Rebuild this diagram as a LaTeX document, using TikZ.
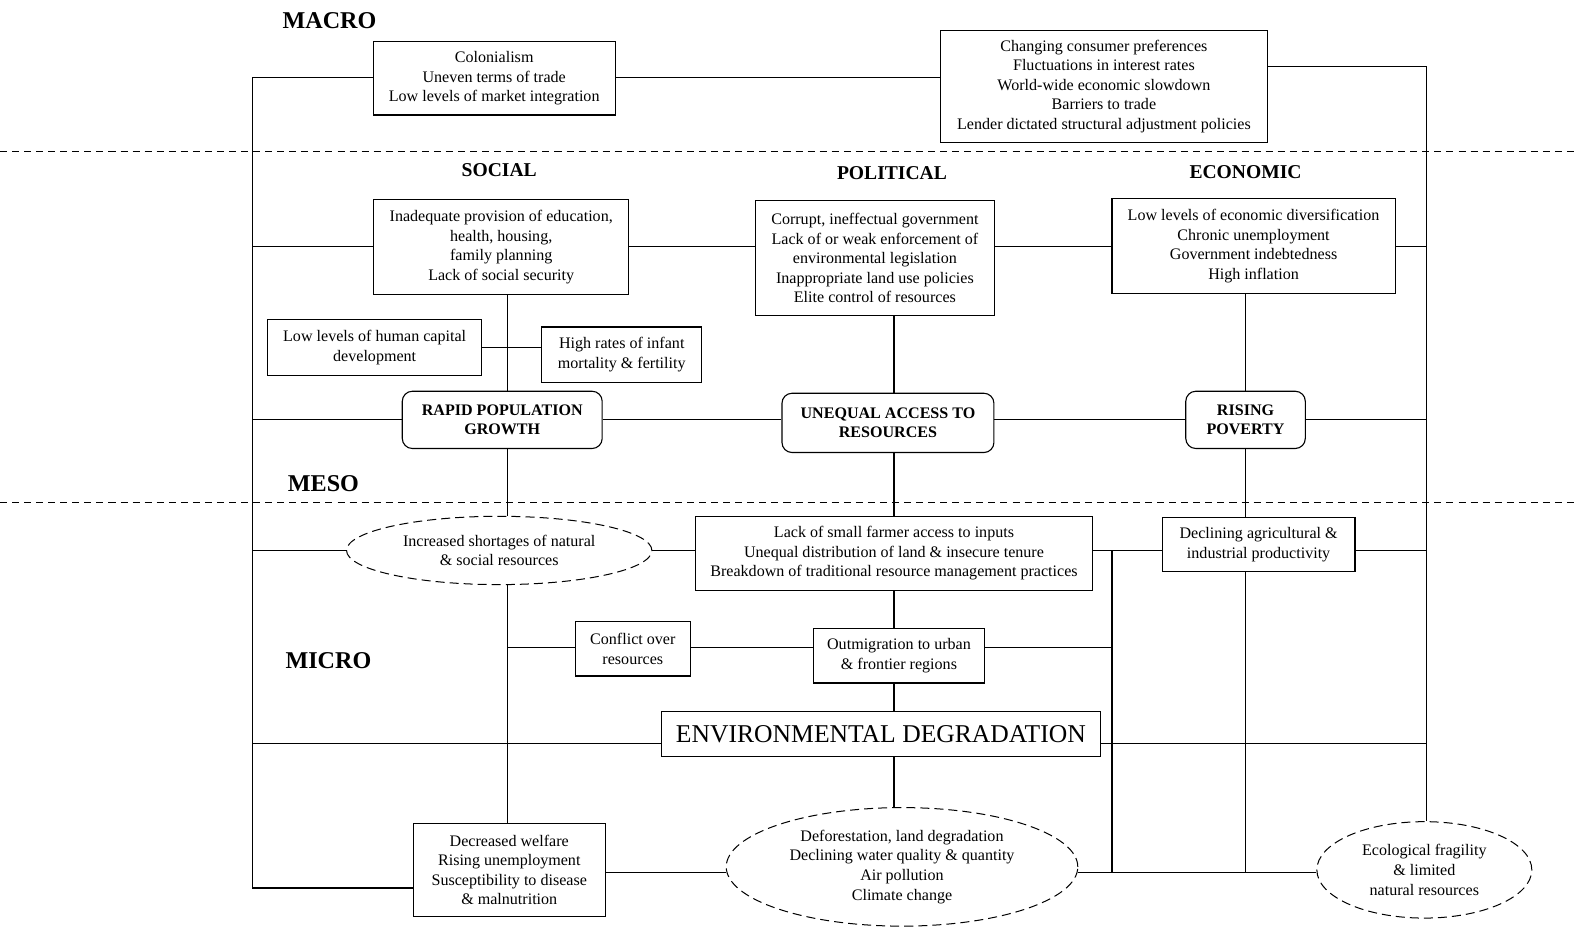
\documentclass[tikz,border=0pt]{standalone}
\usepackage{fontspec}
\setmainfont{Liberation Serif}
\usetikzlibrary{shapes.geometric}
\begin{document}
\begin{tikzpicture}[x=1pt,y=-1pt,
  every node/.style={font=\fontsize{16}{19.5}\selectfont, align=center, inner sep=0pt},
  box/.style 2 args={draw, line width=1.1pt, rectangle, minimum width=#1pt, minimum height=#2pt},
  rbox/.style 2 args={draw, line width=1.1pt, rectangle, rounded corners=10pt, minimum width=#1pt, minimum height=#2pt, font=\bfseries\fontsize{16}{19.5}\selectfont},
  ell/.style 2 args={draw, line width=1pt, ellipse, dash pattern=on 9pt off 5pt, minimum width=#1pt, minimum height=#2pt},
  hdr/.style={font=\bfseries\fontsize{24}{27}\selectfont},
  shdr/.style={font=\bfseries\fontsize{19.5}{22}\selectfont},
  conn/.style={line width=1.1pt},
  sep/.style={line width=1.1pt, dash pattern=on 7pt off 5pt}
]
\useasboundingbox (0,0) rectangle (1568,924);

% separators
\draw[sep] (0,151) -- (1568,151);
\draw[sep] (0,500) -- (1568,500);

% headers
\node[hdr] (macro) at (328,21) {MACRO};
\node[hdr] (meso) at (322,481) {MESO};
\node[hdr] (micro) at (327,658) {MICRO};
\node[shdr] (social) at (497,169) {SOCIAL};
\node[shdr] (political) at (888,172) {POLITICAL};
\node[shdr] (economic) at (1240,171) {ECONOMIC};

% nodes
\node[box={241}{73}] (colon) at (492,78) {Colonialism\\Uneven terms of trade\\Low levels of market integration};
\node[box={325}{111}] (cons) at (1099,86) {Changing consumer preferences\\Fluctuations in interest rates\\World-wide economic slowdown\\Barriers to trade\\Lender dictated structural adjustment policies};
\node[box={254}{94}] (soc) at (499,246) {Inadequate provision of education,\\health, housing,\\family planning\\Lack of social security};
\node[box={238}{114}] (pol) at (871,257) {Corrupt, ineffectual government\\Lack of or weak enforcement of\\environmental legislation\\Inappropriate land use policies\\Elite control of resources};
\node[box={282}{95}] (econ) at (1248,245) {Low levels of economic diversification\\Chronic unemployment\\Government indebtedness\\High inflation};
\node[box={213}{55}] (hc) at (373,346) {Low levels of human capital\\development};
\node[box={159}{55}] (inf) at (619,353) {High rates of infant\\mortality \& fertility};
\node[rbox={199}{57}] (rapid) at (500,418) {RAPID POPULATION\\GROWTH};
\node[rbox={211}{59}] (uneq) at (884,421) {UNEQUAL ACCESS TO\\RESOURCES};
\node[rbox={119}{57}] (pov) at (1240,418) {RISING\\POVERTY};
\node[ell={304}{68}] (short) at (497,548) {Increased shortages of natural\\\& social resources};
\node[box={396}{73}] (lack) at (890,551) {Lack of small farmer access to inputs\\Unequal distribution of land \& insecure tenure\\Breakdown of traditional resource management practices};
\node[box={192}{54}] (decl) at (1253,542) {Declining agricultural \&\\industrial productivity};
\node[box={114}{54}] (confl) at (630,646) {Conflict over\\resources};
\node[box={170}{54}] (outm) at (895,653) {Outmigration to urban\\\& frontier regions};
\node[box={437}{45}, font=\fontsize{25.5}{29}\selectfont] (env) at (877,731) {ENVIRONMENTAL DEGRADATION};
\node[box={191}{92}] (welf) at (507,866) {Decreased welfare\\Rising unemployment\\Susceptibility to disease\\\& malnutrition};
\node[ell={350}{118}] (defo) at (898,863) {Deforestation, land degradation\\Declining water quality \& quantity\\Air pollution\\Climate change};
\node[ell={214}{96}] (ecol) at (1418,866) {Ecological fragility\\\& limited\\natural resources};

% junction coordinates
\coordinate (Ltop) at (251,77);
\coordinate (Lbot) at (251,884);
\coordinate (Rtop) at (1420,66);
\coordinate (cS) at (505,0);
\coordinate (cP) at (890,0);
\coordinate (cE) at (1240,0);
\coordinate (cJ) at (1107,0);
\coordinate (rS) at (0,245);
\coordinate (rR) at (0,418);
\coordinate (rM) at (0,548);
\coordinate (rC) at (0,645);
\coordinate (rEnv) at (0,740);
\coordinate (rB) at (0,869);

% outer frame lines
\draw[conn] (colon.west |- Ltop) -- (Ltop) -- (Lbot) -- (Lbot -| welf.west);
\draw[conn] (colon.east |- Ltop) -- (cons.west |- Ltop);
\draw[conn] (cons.east |- Rtop) -- (Rtop) -- (ecol.north -| Rtop);

% social/political/economic row
\draw[conn] (Ltop |- rS) -- (soc.west |- rS);
\draw[conn] (soc.east |- rS) -- (pol.west |- rS);
\draw[conn] (pol.east |- rS) -- (econ.west |- rS);
\draw[conn] (econ.east |- rS) -- (Rtop |- rS);
\draw[conn] (hc.east) -- (hc.east -| inf.west);

% social column
\draw[conn] (soc.south -| cS) -- (rapid.north -| cS);
\draw[conn] (rapid.south -| cS) -- (short.north -| cS);
\draw[conn] (short.south -| cS) -- (welf.north -| cS);

% meso row
\draw[conn] (Ltop |- rR) -- (rapid.west |- rR);
\draw[conn] (rapid.east |- rR) -- (uneq.west |- rR);
\draw[conn] (uneq.east |- rR) -- (pov.west |- rR);
\draw[conn] (pov.east |- rR) -- (Rtop |- rR);

% political column
\draw[conn] (pol.south -| cP) -- (uneq.north -| cP);
\draw[conn] (uneq.south -| cP) -- (lack.north -| cP);
\draw[conn] (lack.south -| cP) -- (outm.north -| cP);
\draw[conn] (outm.south -| cP) -- (env.north -| cP);
\draw[conn] (env.south -| cP) -- (defo.north -| cP);

% economic column
\draw[conn] (econ.south -| cE) -- (pov.north -| cE);
\draw[conn] (pov.south -| cE) -- (decl.north -| cE);
\draw[conn] (decl.south -| cE) -- (cE |- rB);

% micro row
\draw[conn] (Ltop |- rM) -- (short.west |- rM);
\draw[conn] (short.east |- rM) -- (lack.west |- rM);
\draw[conn] (lack.east |- rM) -- (decl.west |- rM);
\draw[conn] (decl.east |- rM) -- (Rtop |- rM);
\draw[conn] (cJ |- rM) -- (cJ |- rB);

% conflict row
\draw[conn] (cS |- rC) -- (confl.west |- rC);
\draw[conn] (confl.east |- rC) -- (outm.west |- rC);
\draw[conn] (outm.east |- rC) -- (cJ |- rC);

% environmental degradation row
\draw[conn] (Ltop |- rEnv) -- (env.west |- rEnv);
\draw[conn] (env.east |- rEnv) -- (Rtop |- rEnv);

% bottom row
\draw[conn] (welf.east |- rB) -- (defo.west |- rB);
\draw[conn] (defo.east |- rB) -- (ecol.west |- rB);
\end{tikzpicture}
\end{document}
